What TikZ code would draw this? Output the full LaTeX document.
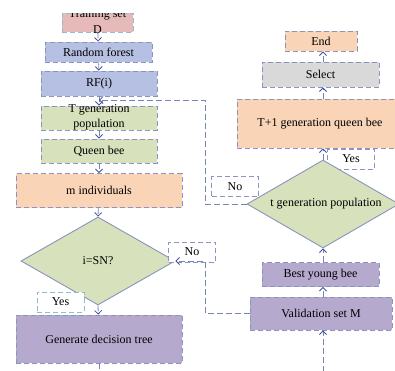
\documentclass[tikz,border=0pt]{standalone}
\usepackage{fontspec}
\setmainfont{Liberation Serif}
\usetikzlibrary{shapes.geometric,arrows.meta}

\definecolor{pinkfill}{RGB}{230,186,185}
\definecolor{bluefill}{RGB}{182,192,226}
\definecolor{greenfill}{RGB}{215,225,187}
\definecolor{peachfill}{RGB}{249,212,183}
\definecolor{purplefill}{RGB}{182,169,206}
\definecolor{greyfill}{RGB}{217,217,217}
\definecolor{edgeblue}{RGB}{138,148,190}
\definecolor{edgeteal}{RGB}{140,190,202}
\definecolor{linkblue}{RGB}{118,132,182}
\definecolor{tipblue}{RGB}{70,82,150}

\tikzset{
  x=1pt, y=-1pt,
  every node/.style={font=\fontsize{12}{14}\selectfont, inner sep=0pt, align=center},
  box/.style={draw=edgeblue, line width=0.9pt, dash pattern=on 5pt off 3pt,
              rectangle, minimum width=#1},
  dia/.style={draw=edgeblue, line width=0.9pt, fill=greenfill, diamond,
              minimum width=154pt, minimum height=88pt},
  tag/.style={draw=edgeblue, line width=0.9pt, dash pattern=on 5pt off 3pt,
              fill=white, minimum width=47pt, minimum height=20pt},
  link/.style={draw=linkblue, line width=0.8pt, dash pattern=on 6pt off 3pt},
  arrow/.style={link, -{Straight Barb[length=3.5pt,width=7pt,color=tipblue,line width=0.8pt]}}
}

\begin{document}
\begin{tikzpicture}
\useasboundingbox (0,0) rectangle (395,370);
\clip (0,0) rectangle (395,370);

% left column
\node[box=71pt, draw=edgeteal, fill=pinkfill, minimum height=19pt] (train) at (97.5,22.5) {};
\begin{scope}
  % the first line is cut off by the box top
  \clip (0,13) rectangle (395,40);
  \node[anchor=base] (traintexta) at (97.5,17.5) {Training set};
\end{scope}
\node[anchor=base] (traintextb) at (97.5,33) {D};
\node[box=107pt, fill=bluefill, minimum height=20pt] (rf) at (98.5,52) {Random forest};
\node[box=116pt, fill=bluefill, minimum height=25pt] (rfi) at (99,83.5) {RF(i)};
\node[box=116pt, fill=greenfill, minimum height=24pt] (tgen) at (99,118) {};
\node[font=\fontsize{12}{15}\selectfont] (tgentext) at (99,117.5) {T generation\\population};
\node[box=116pt, fill=greenfill, minimum height=24pt] (queen) at (99,151) {Queen bee};
\node[box=166pt, fill=peachfill, minimum height=34pt] (mind) at (99,190.5) {m individuals};
\node[dia] (sn) at (98,261) {};
\node (sntext) at (98,261) {i=SN?};
\node[box=166pt, fill=purplefill, minimum height=48pt] (tree) at (99,339) {Generate decision tree};
\node[tag, draw=edgeteal] (yesl) at (60.5,302) {Yes};
\node[tag] (nol) at (192,252) {No};

% right column
\node[box=72pt, fill=peachfill, minimum height=20pt] (end) at (321,41) {End};
\node[box=117pt, fill=greyfill, minimum height=25pt] (select) at (320.5,74.5) {Select};
\node[box=166pt, fill=peachfill, minimum height=49pt] (queen2) at (320,123.5) {T+1 generation queen bee};
\node[tag] (yesr) at (351,159) {Yes};
\node[dia, minimum width=152pt] (tgpop) at (323,204) {};
\node (tgpoptext) at (326,204) {t generation population};
\node[box=117pt, fill=purplefill, minimum height=24pt] (best) at (320.5,274.5) {Best young bee};
\node[box=142pt, fill=purplefill, minimum height=33pt] (valid) at (321,313.5) {Validation set M};
\node[tag] (nor) at (235,186.5) {No};

% free ends and joints
\coordinate (loopin) at (99,100);
\coordinate (treeout) at (99,372);
\coordinate (validin) at (323,372);

% left flow
\draw[arrow] (train) -- (rf);
\draw[arrow] (rf) -- (rfi);
\draw[arrow] (rfi) -- (tgen);
\draw[arrow] (tgen) -- (queen);
\draw[arrow] (queen) -- (mind);
\draw[arrow] (mind) -- (sn.north);
\draw[arrow] (sn.south) -- (tree);
\draw[link] (tree) -- (treeout);

% right flow
\draw[arrow] (validin) -- (valid.south -| validin);
\draw[arrow] (valid.north -| validin) -- (best.south -| validin);
\draw[arrow] (best.north -| validin) -- (tgpop.south);
\draw[arrow] (tgpop.north) -- (queen2.south -| tgpop.north);
\draw[arrow] (queen2.north -| tgpop.north) -- (select.south -| tgpop.north);
\draw[arrow] (select.north -| tgpop.north) -- (end.south -| tgpop.north);

% feedback loops
\draw[arrow] (valid.west) -- (205,313.5) -- (205,261) -- (sn.east);
\draw[arrow] (tgpop.west) -- (205,204) -- (205,100) -- (loopin);
\end{tikzpicture}
\end{document}
